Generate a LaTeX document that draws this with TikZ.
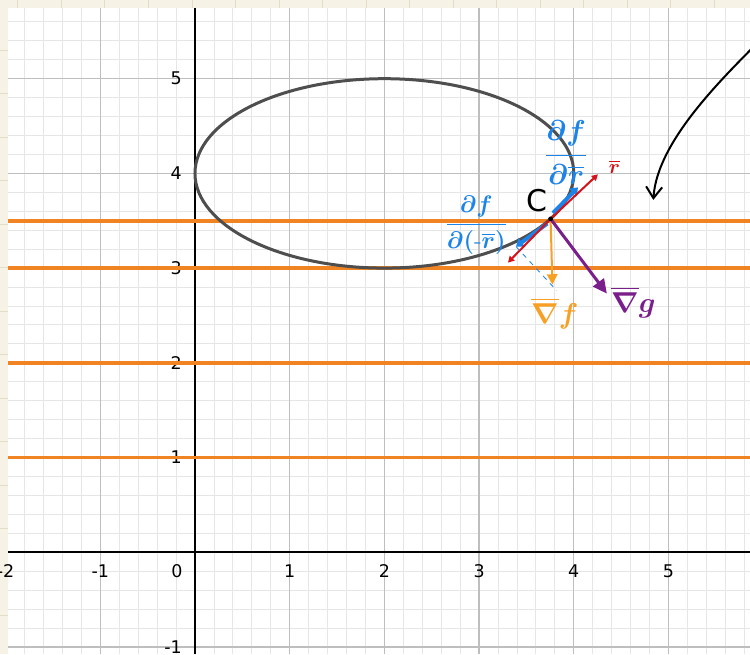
\documentclass[tikz,border=0pt]{standalone}
\usepackage{amsmath}
\usepackage{fontspec}
\setsansfont{DejaVu Sans}
\usetikzlibrary{arrows.meta}

\definecolor{paper}{RGB}{246,243,230}
\definecolor{paperline}{RGB}{226,220,200}
\definecolor{minorgray}{RGB}{230,230,230}
\definecolor{majorgray}{RGB}{190,190,190}
\definecolor{levelorange}{RGB}{240,132,34}
\definecolor{curvegray}{RGB}{78,78,78}
\definecolor{tanred}{RGB}{214,18,24}
\definecolor{derivblue}{RGB}{28,132,232}
\definecolor{gradorange}{RGB}{248,160,36}
\definecolor{gradpurple}{RGB}{122,30,140}

\newcommand{\ticksize}{\fontsize{10.5}{12}\selectfont}
\newcommand{\smallhand}{\fontsize{12}{14}\selectfont}
\newcommand{\midhand}{\fontsize{16}{19}\selectfont}
\newcommand{\narrowhand}{\fontsize{14}{17}\selectfont}
\newcommand{\bighand}{\fontsize{19}{22}\selectfont}
\newcommand{\letterhand}{\fontsize{18}{21}\selectfont}

\begin{document}
\begin{tikzpicture}[x=2cm, y=2cm,
    minorgrid/.style={minorgray, line width=0.5pt},
    majorgrid/.style={majorgray, line width=0.8pt},
    axis/.style={black, line width=0.9pt},
    ticklabel/.style={font=\ticksize\sffamily, inner sep=0pt},
    levelline/.style={levelorange, line width=2.2pt},
    ellipsecurve/.style={curvegray, line width=1.8pt},
    tangent/.style={tanred, line width=1.2pt, -{Triangle[length=1.3mm,width=1.4mm]}},
    deriv/.style={derivblue, line width=2.4pt, -{Triangle[length=1.5mm,width=2.2mm]}},
    gradf/.style={gradorange, line width=1.2pt, -{Triangle[length=2.2mm,width=2.2mm]}},
    gradg/.style={gradpurple, line width=1.8pt, -{Triangle[length=3mm,width=2.8mm]}},
    handlabel/.style={inner sep=1pt}
  ]
    \useasboundingbox (-2.059,-1.079) rectangle (5.861,5.831);
    \clip (-2.059,-1.079) rectangle (5.861,5.831);

    % Paper border and grid.
    \fill[paper] (-2.059,-1.079) rectangle (5.861,5.831);
    \foreach \k in {0,...,17} {
      \draw[paperline, line width=0.6pt] (-1.869+0.4594*\k,5.75) -- (-1.869+0.4594*\k,5.831);
      \draw[paperline, line width=0.6pt] (-2.059,5.30-0.4594*\k) -- (-1.975,5.30-0.4594*\k);
    }
    \fill[white] (-1.975,-1.079) rectangle (5.861,5.75);
    \draw[minorgrid] (-1.975,-1.079) grid[step=0.2] (5.861,5.75);
    \draw[majorgrid] (-1.975,-1.079) grid[step=1] (5.861,5.75);
    \draw[axis] (-1.975,0) -- (5.861,0);
    \draw[axis] (0,-1.079) -- (0,5.75);

    % Tick labels.
    \foreach \x in {-2,-1,1,2,3,4,5}
      \node[ticklabel] (xl\x) at (\x,-0.2) {\x};
    \node[ticklabel] (xl0) at (-0.19,-0.2) {0};
    \foreach \y in {-1,1,2,3,4,5}
      \node[ticklabel, anchor=east] (yl\y) at (-0.135,\y) {\y};

    % Level lines and ellipse.
    \foreach \y in {1,2,3,3.5}
      \draw[levelline] (-1.975,\y) -- (5.861,\y);
    \draw[ellipsecurve] (2,4) ellipse [x radius=2, y radius=1];

    % Point C and vectors.
    \coordinate (C) at (3.755,3.52);
    \coordinate (rup) at (4.255,3.99);
    \coordinate (rdown) at (3.305,3.058);
    \coordinate (bupstart) at (3.78,3.58);
    \coordinate (bup) at (4.044,3.852);
    \coordinate (bdownstart) at (3.72,3.47);
    \coordinate (bdown) at (3.39,3.227);
    \coordinate (dashend) at (3.82,2.762);
    \coordinate (ftip) at (3.775,2.825);
    \coordinate (gtip) at (4.35,2.73);

    \draw[deriv] (bupstart) -- (bup);
    \draw[deriv] (bdownstart) -- (bdown);
    \draw[tangent] (C) -- (rup);
    \draw[tangent] (C) -- (rdown);
    \draw[derivblue, line width=0.5pt, dashed] (bdown) -- (dashend);
    \draw[gradf] (C) -- (ftip);
    \draw[gradg] (C) -- (gtip);
    \fill[black] (C) circle (0.025);

    % Labels.
    \node[handlabel, font=\letterhand\sffamily] (clabel) at (3.61,3.71) {C};
    \node[handlabel, text=tanred, font=\smallhand\boldmath] (rlabel) at (4.43,4.07) {$\overline{r}$};
    \node[handlabel, text=derivblue, font=\midhand\boldmath] (dplus) at (3.92,4.22) {$\dfrac{\partial f}{\partial \overline{r}}$};
    \node[handlabel, text=derivblue, font=\narrowhand\boldmath] (dminus) at (2.97,3.45) {$\dfrac{\partial f}{\partial(\text{-}\overline{r})}$};
    \node[handlabel, text=gradorange, font=\bighand\boldmath] (flabel) at (3.80,2.52) {$\overline{\nabla} f$};
    \node[handlabel, text=gradpurple, font=\bighand\boldmath] (glabel) at (4.63,2.64) {$\overline{\nabla} g$};

    % Pointer from the margin.
    \coordinate (pstart) at (5.97,5.41);
    \coordinate (pend) at (4.84,3.72);
    \draw[black, line width=1.2pt, -{Straight Barb[length=2.4mm,width=3.4mm]}] (pstart) .. controls (5.6,5.03) and (4.88,4.35) .. (pend);
\end{tikzpicture}
\end{document}
